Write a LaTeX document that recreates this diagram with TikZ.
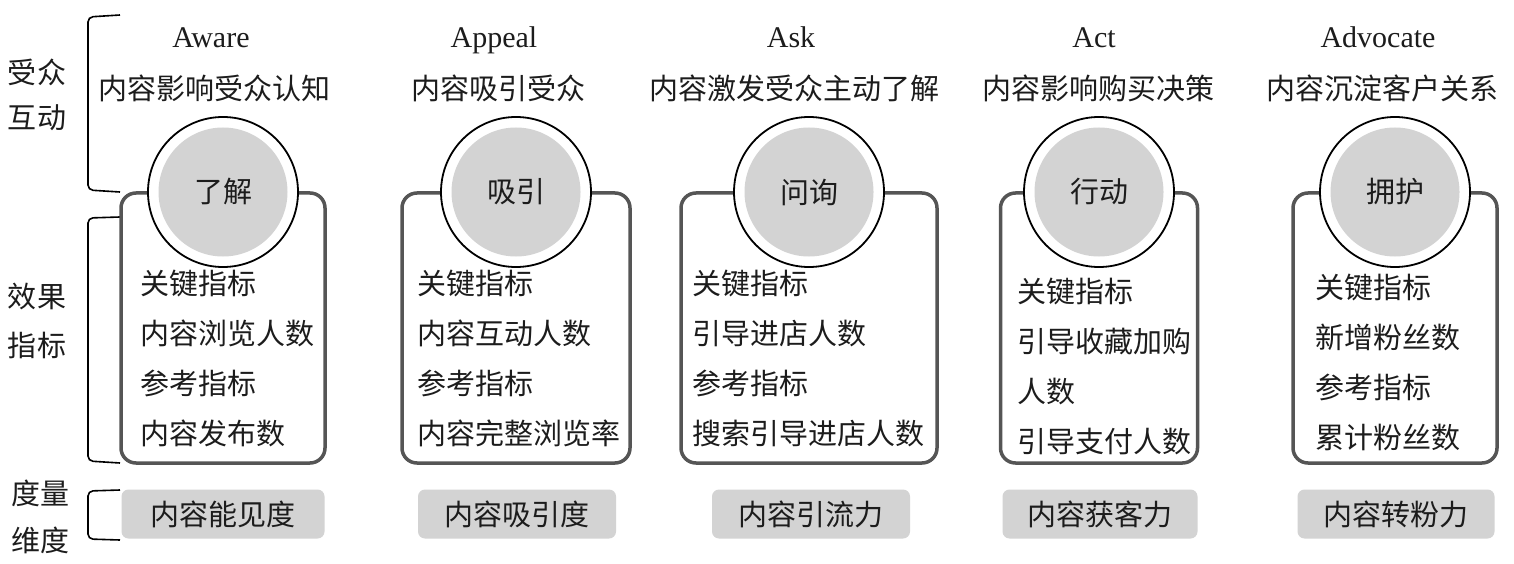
\documentclass[tikz,border=0pt]{standalone}
\usepackage{fontspec}
\setmainfont{Liberation Serif}
\newfontfamily\cjk{Noto Sans CJK SC}
\definecolor{borde}{HTML}{555555}
\definecolor{relleno}{HTML}{D3D3D3}
\definecolor{tinta}{HTML}{1C1C1C}
\tikzset{
  texto/.style={font=\cjk\fontsize{29}{35}\selectfont, text=tinta, inner sep=0pt},
  titulo/.style={font=\fontsize{30}{35}\selectfont, text=tinta, inner sep=0pt, text height=20pt, text depth=7pt},
  lista/.style={font=\cjk\fontsize{29}{50}\selectfont, text=tinta, inner sep=0pt, align=left, anchor=west},
  caja/.style={draw=borde, line width=3.5pt, rounded corners=15pt, minimum height=270pt, inner sep=0pt},
  aro/.style={circle, draw=black, line width=1.8pt, fill=white, minimum size=150pt, inner sep=0pt},
  disco/.style={texto, circle, fill=relleno, minimum size=129pt},
  medida/.style={texto, fill=relleno, rounded corners=7pt, minimum height=49pt},
  corchete/.style={draw=black, line width=1.6pt, rounded corners=5pt}
}
\begin{document}
\begin{tikzpicture}[x=1pt, y=-1pt]
    \useasboundingbox (0,0) rectangle (1514,564);

    % Dibuja las etiquetas de la izquierda
    \node[texto] (e1) at (37,72) {受众};
    \node[texto] (e2) at (37,118) {互动};
    \node[texto] (e3) at (37,297) {效果};
    \node[texto] (e4) at (37,345) {指标};
    \node[texto] (e5) at (41,493) {度量};
    \node[texto] (e6) at (41,540) {维度};

    % Dibuja las llaves
    \draw[corchete] (120,15) -- (88,17) -- (88,190) -- (120,192);
    \draw[corchete] (120,217) -- (88,218) -- (88,461) -- (120,463);
    \draw[corchete] (120,490) -- (88,491) -- (88,539) -- (120,540);

    % Dibuja los titulos
    \node[titulo] (t1) at (211,41) {Aware};
    \node[titulo] (t2) at (494,41) {Appeal};
    \node[titulo] (t3) at (791,41) {Ask};
    \node[titulo] (t4) at (1094,41) {Act};
    \node[titulo] (t5) at (1378,41) {Advocate};
    \node[texto] (s1) at (214,88) {内容影响受众认知};
    \node[texto] (s2) at (498,88) {内容吸引受众};
    \node[texto] (s3) at (794,88) {内容激发受众主动了解};
    \node[texto] (s4) at (1098,88) {内容影响购买决策};
    \node[texto] (s5) at (1382,88) {内容沉淀客户关系};

    % Dibuja las cajas de indicadores
    \node[caja, minimum width=204pt] (c1) at (223,328) {};
    \node[caja, minimum width=228pt] (c2) at (516,328) {};
    \node[caja, minimum width=256pt] (c3) at (809,328) {};
    \node[caja, minimum width=197pt] (c4) at (1099,328) {};
    \node[caja, minimum width=204pt] (c5) at (1395,328) {};

    % Dibuja los circulos de cada etapa
    \node[aro] (a1) at (223,192) {};
    \node[disco] (d1) at (a1) {了解};
    \node[aro] (a2) at (516,192) {};
    \node[disco] (d2) at (a2) {吸引};
    \node[aro] (a3) at (809,192) {};
    \node[disco] (d3) at (a3) {问询};
    \node[aro] (a4) at (1099,192) {};
    \node[disco] (d4) at (a4) {行动};
    \node[aro] (a5) at (1395,192) {};
    \node[disco] (d5) at (a5) {拥护};

    % Escribe los indicadores
    \node[lista] (l1) at (140,358) {关键指标\\内容浏览人数\\参考指标\\内容发布数};
    \node[lista] (l2) at (417,358) {关键指标\\内容互动人数\\参考指标\\内容完整浏览率};
    \node[lista] (l3) at (692,358) {关键指标\\引导进店人数\\参考指标\\搜索引导进店人数};
    \node[lista] (l4) at (1017,366) {关键指标\\引导收藏加购\\人数\\引导支付人数};
    \node[lista] (l5) at (1315,362) {关键指标\\新增粉丝数\\参考指标\\累计粉丝数};

    % Dibuja las dimensiones de medida
    \node[medida, minimum width=203pt] (m1) at (223,514) {内容能见度};
    \node[medida, minimum width=198pt] (m2) at (517,514) {内容吸引度};
    \node[medida, minimum width=198pt] (m3) at (811,514) {内容引流力};
    \node[medida, minimum width=195pt] (m4) at (1100,514) {内容获客力};
    \node[medida, minimum width=197pt] (m5) at (1396,514) {内容转粉力};
\end{tikzpicture}
\end{document}
